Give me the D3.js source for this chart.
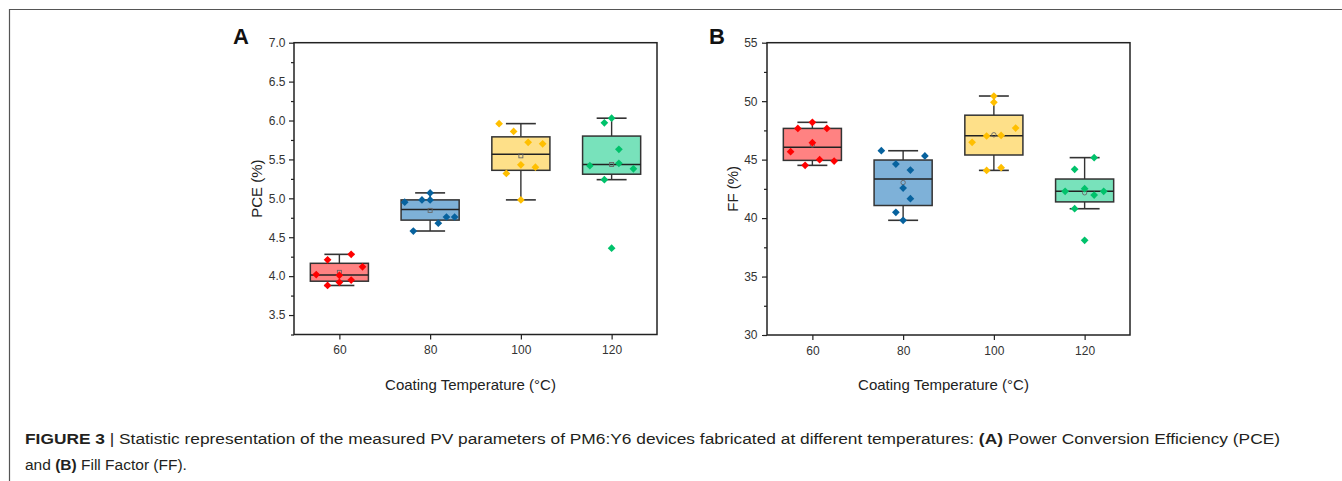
<!DOCTYPE html>
<html>
<head>
<meta charset="utf-8">
<script src="https://cdn.jsdelivr.net/npm/d3@7"></script>
<style>
  body { margin: 0; background: #fff; }
  svg { display: block; font-family: "Liberation Sans", Arial, sans-serif; }
</style>
</head>
<body>
<div id="chart"></div>
<script>
// coating temperatures (°C)
const temps = [60, 80, 100, 120];

// PCE (%) per device, 8 devices per temperature
const pce60  = [4.02, 4.21, 3.88, 4.01, 3.92, 4.28, 3.95, 4.12];
const pce80  = [4.95, 4.58, 4.98, 5.07, 4.98, 4.68, 4.76, 4.76];
const pce100 = [5.96, 5.32, 5.86, 5.43, 4.98, 5.72, 5.40, 5.70];
const pce120 = [5.42, 5.97, 5.24, 6.03, 4.36, 5.63, 5.45, 5.38];

// FF (%) per device
const ff60  = [45.68, 47.67, 44.51, 48.19, 46.45, 44.99, 47.67, 44.88];
const ff80  = [45.76, 44.62, 40.49, 42.57, 39.81, 44.11, 41.66, 45.31];
const ff100 = [46.48, 47.02, 44.08, 50.44, 49.90, 47.07, 44.31, 47.70];
const ff120 = [42.29, 44.17, 40.80, 42.51, 38.10, 45.17, 41.97, 42.29];

// horizontal jitter of the overlaid points, in °C units
const pceJitter = [
  [-5.1, -2.6, -2.6, 0, 0, 2.6, 2.6, 5.1],
  [-5.6, -3.7, -1.8, 0, 0, 1.8, 3.6, 5.4],
  [-4.8, -3.2, -1.6, 0, 0, 1.6, 3.2, 4.8],
  [-4.8, -1.6, -1.6, 0, 0, 1.6, 1.6, 4.8]
];
const ffJitter = [
  [-4.8, -3.2, -1.6, 0, 0, 1.6, 3.2, 4.8],
  [-4.8, -1.6, -1.6, 0, 0, 1.6, 1.6, 4.8],
  [-4.8, -1.6, -1.6, 0, 0, 1.6, 1.6, 4.8],
  [-4.3, -2.2, -2.2, 0, 0, 2.1, 2.1, 4.2]
];

const pceTicks = [3.5, 4.0, 4.5, 5.0, 5.5, 6.0, 6.5, 7.0];
const ffTicks = [30, 35, 40, 45, 50, 55];

const boxFill = ["#ff8282", "#7eb1d8", "#fee089", "#78e2bb"];
const pointFill = ["#ff0000", "#07629e", "#ffbf00", "#00c26b"];

const width = 1342, height = 481;

const svg = d3.select("#chart").append("svg")
  .attr("width", width)
  .attr("height", height);

// page frame lines
svg.append("line").attr("x1", 9).attr("x2", width).attr("y1", 9.5).attr("y2", 9.5)
  .attr("stroke", "#555").attr("stroke-width", 1.2);
svg.append("line").attr("x1", 9.5).attr("x2", 9.5).attr("y1", 9).attr("y2", height)
  .attr("stroke", "#555").attr("stroke-width", 1.2);

// Tukey hinges (Origin style) + 1.5 IQR whiskers
function boxStats(vals) {
  const s = vals.slice().sort(d3.ascending);
  const n = s.length, h = Math.floor(n / 2);
  const lower = s.slice(0, n % 2 ? h + 1 : h);
  const upper = s.slice(h);
  const q1 = d3.median(lower), q3 = d3.median(upper);
  const iqr = q3 - q1;
  const lo = d3.min(s.filter(v => v >= q1 - 1.5 * iqr));
  const hi = d3.max(s.filter(v => v <= q3 + 1.5 * iqr));
  return { q1, q3, med: d3.median(s), mean: d3.mean(s), lo, hi };
}

function drawPanel(cfg) {
  const g = svg.append("g");
  const x = d3.scaleLinear().domain([50, 130]).range([cfg.left, cfg.right]);
  const y = d3.scaleLinear().domain(cfg.yDomain).range([cfg.bottom, cfg.top]);

  // minor ticks
  g.append("g")
    .attr("transform", `translate(${cfg.left},0)`)
    .call(d3.axisLeft(y).tickValues(cfg.minor).tickSize(3).tickFormat(""))
    .call(a => a.select(".domain").remove())
    .call(a => a.selectAll("line").attr("stroke", "#222").attr("stroke-width", 1.2));

  // y axis
  g.append("g")
    .attr("transform", `translate(${cfg.left},0)`)
    .call(d3.axisLeft(y).tickValues(cfg.ticks).tickSize(5).tickPadding(cfg.yPad).tickFormat(cfg.fmt))
    .call(a => a.select(".domain").remove())
    .call(a => a.selectAll("line").attr("stroke", "#222").attr("stroke-width", 1.2))
    .call(a => a.selectAll("text").attr("font-size", 12).attr("fill", "#333")
      .attr("font-family", "Liberation Sans, Arial, sans-serif"));

  // x axis
  g.append("g")
    .attr("transform", `translate(0,${cfg.bottom})`)
    .call(d3.axisBottom(x).tickValues(temps).tickSize(5).tickPadding(6))
    .call(a => a.select(".domain").remove())
    .call(a => a.selectAll("line").attr("stroke", "#222").attr("stroke-width", 1.2))
    .call(a => a.selectAll("text").attr("font-size", 12).attr("fill", "#333")
      .attr("font-family", "Liberation Sans, Arial, sans-serif"));

  // frame
  g.append("rect")
    .attr("x", cfg.left).attr("y", cfg.top)
    .attr("width", cfg.right - cfg.left).attr("height", cfg.bottom - cfg.top)
    .attr("fill", "none").attr("stroke", "#222").attr("stroke-width", 1.5);

  cfg.series.forEach((vals, i) => {
    const t = temps[i];
    const st = boxStats(vals);
    const bg = g.append("g");

    // whiskers
    bg.append("line").attr("x1", x(t)).attr("x2", x(t)).attr("y1", y(st.hi)).attr("y2", y(st.q3))
      .attr("stroke", "#333").attr("stroke-width", 1.4);
    bg.append("line").attr("x1", x(t)).attr("x2", x(t)).attr("y1", y(st.q1)).attr("y2", y(st.lo))
      .attr("stroke", "#333").attr("stroke-width", 1.4);
    [st.hi, st.lo].forEach(v => {
      bg.append("line").attr("x1", x(t - 3.3)).attr("x2", x(t + 3.3)).attr("y1", y(v)).attr("y2", y(v))
        .attr("stroke", "#333").attr("stroke-width", 1.6);
    });

    // box
    bg.append("rect")
      .attr("x", x(t - 6.4)).attr("width", x(t + 6.4) - x(t - 6.4))
      .attr("y", y(st.q3)).attr("height", y(st.q1) - y(st.q3))
      .attr("fill", boxFill[i]).attr("stroke", "#333").attr("stroke-width", 1.5);
    bg.append("line").attr("x1", x(t - 6.4)).attr("x2", x(t + 6.4))
      .attr("y1", y(st.med)).attr("y2", y(st.med))
      .attr("stroke", "#222").attr("stroke-width", 1.5);

    // mean marker
    if (cfg.meanShape === "square") {
      bg.append("rect").attr("x", x(t) - 2).attr("y", y(st.mean) - 2).attr("width", 4).attr("height", 4)
        .attr("fill", "none").attr("stroke", "#666").attr("stroke-width", 0.9);
    } else {
      bg.append("circle").attr("cx", x(t)).attr("cy", y(st.mean)).attr("r", 2.2)
        .attr("fill", "none").attr("stroke", "#666").attr("stroke-width", 0.9);
    }

    // points
    bg.selectAll("path.pt")
      .data(vals.map((v, j) => ({ v, dx: cfg.jitter[i][j] })))
      .enter().append("path")
      .attr("class", "pt")
      .attr("d", d3.symbol(d3.symbolSquare, 30))
      .attr("transform", d => `translate(${x(t + d.dx)},${y(d.v)}) rotate(45)`)
      .attr("fill", pointFill[i]);
  });

  // axis titles
  g.append("text")
    .attr("transform", `translate(${cfg.yTitleX},${(cfg.top + cfg.bottom) / 2}) rotate(-90)`)
    .attr("text-anchor", "middle").attr("dy", "0.35em")
    .attr("font-size", 15).attr("fill", "#222")
    .text(cfg.yTitle);
  g.append("text")
    .attr("x", (cfg.left + cfg.right) / 2 - 5).attr("y", 390)
    .attr("text-anchor", "middle")
    .attr("font-size", 15).attr("fill", "#222")
    .text("Coating Temperature (°C)");

  // panel letter
  g.append("text")
    .attr("x", cfg.letterX).attr("y", 44)
    .attr("font-size", 22).attr("font-weight", "bold").attr("fill", "#111")
    .text(cfg.letter);
}

drawPanel({
  left: 294, right: 657, top: 42.7, bottom: 334.5,
  yDomain: [3.25, 7.0], ticks: pceTicks,
  minor: d3.range(3.25, 7.0, 0.5),
  fmt: d3.format(".1f"), yPad: 3.5,
  series: [pce60, pce80, pce100, pce120], jitter: pceJitter,
  meanShape: "square",
  yTitle: "PCE (%)", yTitleX: 257,
  letter: "A", letterX: 233
});

drawPanel({
  left: 767, right: 1130, top: 42.7, bottom: 335,
  yDomain: [30, 55], ticks: ffTicks,
  minor: d3.range(32.5, 55, 5),
  fmt: d3.format("d"), yPad: 4.5,
  series: [ff60, ff80, ff100, ff120], jitter: ffJitter,
  meanShape: "circle",
  yTitle: "FF (%)", yTitleX: 733,
  letter: "B", letterX: 709
});

// caption
const cap1 = svg.append("text")
  .attr("x", 25).attr("y", 444)
  .attr("font-size", 15.5).attr("fill", "#231f20")
  .attr("textLength", 1255).attr("lengthAdjust", "spacingAndGlyphs");
cap1.append("tspan").attr("font-weight", "bold").text("FIGURE 3");
cap1.append("tspan").text(" | Statistic representation of the measured PV parameters of PM6:Y6 devices fabricated at different temperatures: ");
cap1.append("tspan").attr("font-weight", "bold").text("(A)");
cap1.append("tspan").text(" Power Conversion Efficiency (PCE)");

const cap2 = svg.append("text")
  .attr("x", 25).attr("y", 470)
  .attr("font-size", 15.5).attr("fill", "#231f20");
cap2.append("tspan").text("and ");
cap2.append("tspan").attr("font-weight", "bold").text("(B)");
cap2.append("tspan").text(" Fill Factor (FF).");
</script>
</body>
</html>
